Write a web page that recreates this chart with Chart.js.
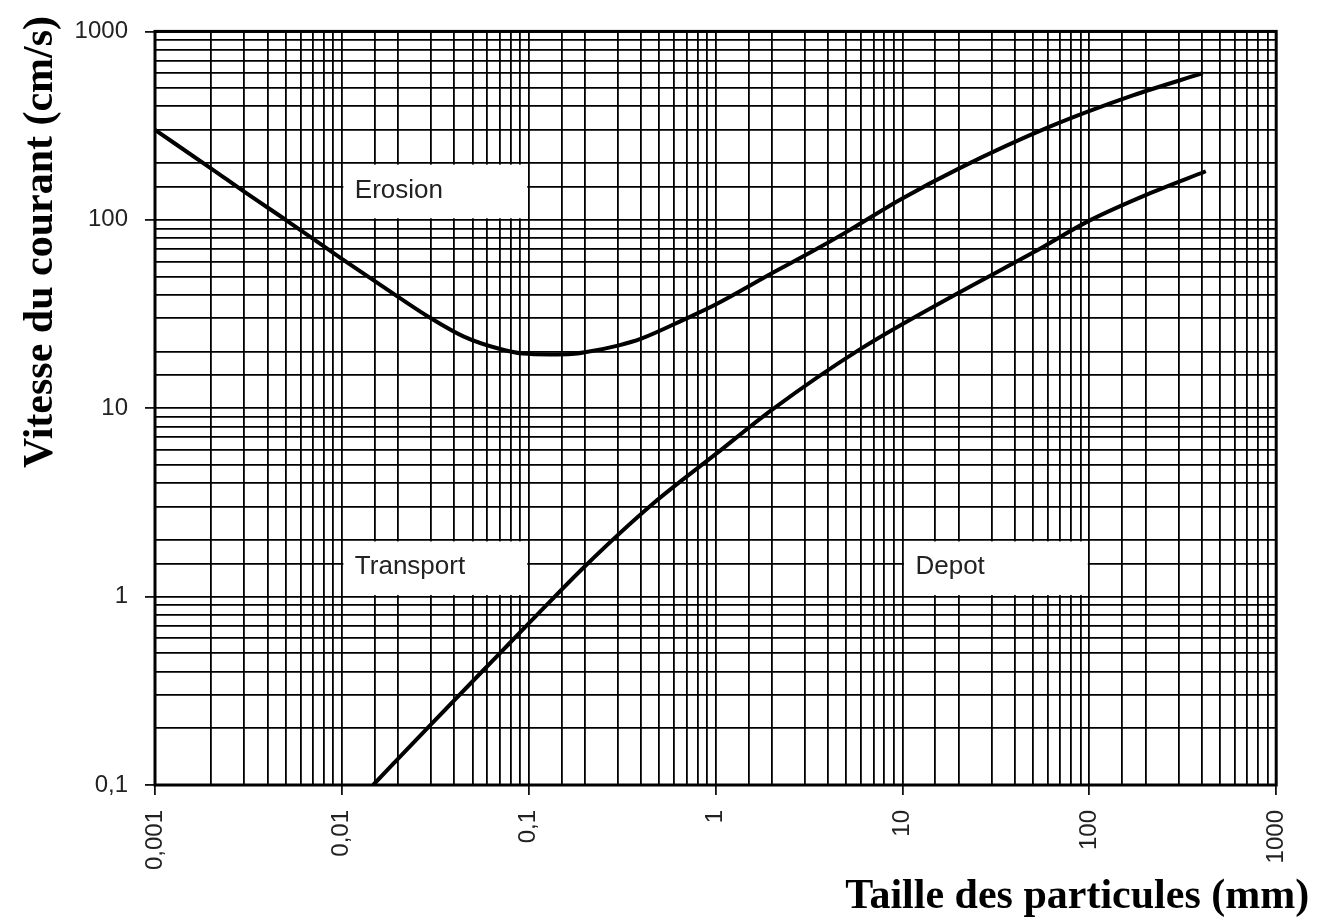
<!DOCTYPE html>
<html lang="fr">
<head>
<meta charset="utf-8">
<title>Diagramme de Hjulström</title>
<script src="https://cdn.jsdelivr.net/npm/chart.js@4.4.1/dist/chart.umd.min.js"></script>
<style>
  html, body { margin: 0; padding: 0; background: #fff; }
</style>
</head>
<body>
<canvas id="hjulstromChart" width="1320" height="921"></canvas>
<script>
const erosionSize = [0.001, 0.002, 0.003, 0.005, 0.01, 0.02, 0.03, 0.045, 0.068, 0.093, 0.13, 0.17, 0.2, 0.3, 0.4, 0.7, 1, 2, 3.3, 5, 9.6, 20, 61, 171, 404];
const erosionSpeed = [300, 187, 141, 100, 62, 39, 30, 24, 20.8, 19.5, 19.3, 19.4, 19.8, 21.5, 23.4, 30, 35.5, 52, 68, 86, 127, 187, 311, 457, 600];

// Courbe de depot
const depositSize = [0.0147, 0.03, 0.07, 0.1, 0.2, 0.46, 1, 2, 6, 20, 50, 100, 210, 420];
const depositSpeed = [0.1, 0.21, 0.5, 0.72, 1.45, 3.1, 5.7, 9.8, 20.7, 41, 67, 99, 138, 181];

// Etiquettes des decades
const xTickLabels = ['0,001', '0,01', '0,1', '1', '10', '100', '1000'];
const yTickLabels = ['0,1', '1', '10', '100', '1000'];

// Zones nommees (cases blanches sur la grille)
const regionNames = ['Erosion', 'Transport', 'Depot'];
const regionSizeRange = [[0.01, 0.1], [0.01, 0.1], [10, 100]];
const regionSpeedRange = [[100, 200], [1, 2], [1, 2]];

function toPoints(xs, ys) {
  return xs.map((x, i) => ({ x: x, y: ys[i] }));
}

function isDecade(v) {
  const e = Math.log10(v);
  return Math.abs(e - Math.round(e)) < 1e-6;
}

// Only powers of ten get a label
function decadeLabel(labels, firstExp) {
  return function(value) {
    if (!isDecade(value)) return '';
    const label = labels[Math.round(Math.log10(value)) - firstExp];
    return label === undefined ? '' : label;
  };
}

function tickMarkColor(context) {
  return context.tick && isDecade(context.tick.value) ? '#111' : 'rgba(0,0,0,0)';
}

const tickFont = { family: '"Liberation Sans", Arial, sans-serif', size: 24 };

// White boxes with region names, drawn over the grid
const regionBoxes = {
  id: 'regionBoxes',
  beforeDatasetsDraw(chart) {
    const { ctx, chartArea, scales: { x, y } } = chart;
    ctx.save();
    regionNames.forEach((name, i) => {
      const left = x.getPixelForValue(regionSizeRange[i][0]);
      const right = x.getPixelForValue(regionSizeRange[i][1]);
      const top = y.getPixelForValue(regionSpeedRange[i][1]);
      const bottom = y.getPixelForValue(regionSpeedRange[i][0]);
      ctx.fillStyle = '#fff';
      ctx.fillRect(left + 1.5, top + 1.5, right - left - 3, bottom - top - 3);
      ctx.fillStyle = '#222';
      ctx.font = '26px "Liberation Sans", Arial, sans-serif';
      ctx.textBaseline = 'middle';
      ctx.fillText(name, left + 13, (top + bottom) / 2 - 1);
    });

    // Frame around the plot
    ctx.strokeStyle = '#000';
    ctx.lineWidth = 3;
    ctx.strokeRect(chartArea.left, chartArea.top, chartArea.right - chartArea.left, chartArea.bottom - chartArea.top);
    ctx.restore();
  }
};

// Axis titles, placed like the original figure
const axisTitles = {
  id: 'axisTitles',
  afterDraw(chart) {
    const { ctx, chartArea } = chart;
    ctx.save();
    ctx.fillStyle = '#000';
    ctx.font = 'bold 42px "Liberation Serif", "Times New Roman", serif';
    ctx.textBaseline = 'alphabetic';

    ctx.textAlign = 'right';
    ctx.fillText('Taille des particules (mm)', chartArea.right + 33, 908);

    ctx.translate(52, 242);
    ctx.rotate(-Math.PI / 2);
    ctx.textAlign = 'center';
    ctx.fillText('Vitesse du courant (cm/s)', 0, 0);
    ctx.restore();
  }
};

const ctx = document.getElementById('hjulstromChart').getContext('2d');

new Chart(ctx, {
  type: 'line',
  data: {
    datasets: [{
      label: 'Erosion',
      data: toPoints(erosionSize, erosionSpeed),
      borderColor: '#000',
      borderWidth: 4,
      pointRadius: 0,
      cubicInterpolationMode: 'monotone',
      fill: false
    }, {
      label: 'Depot',
      data: toPoints(depositSize, depositSpeed),
      borderColor: '#000',
      borderWidth: 4,
      pointRadius: 0,
      cubicInterpolationMode: 'monotone',
      fill: false
    }]
  },
  options: {
    responsive: false,
    animation: false,
    layout: {
      padding: { top: 31, right: 43, left: 0, bottom: 0 }
    },
    plugins: {
      legend: { display: false },
      tooltip: { enabled: false }
    },
    scales: {
      x: {
        type: 'logarithmic',
        min: 0.001,
        max: 1000,
        afterFit: function(scale) { scale.height = 136; },
        grid: {
          color: '#000',
          lineWidth: 1.8,
          tickLength: 10,
          tickWidth: 1.8,
          tickColor: tickMarkColor
        },
        border: { display: false },
        ticks: {
          autoSkip: false,
          minRotation: 90,
          maxRotation: 90,
          padding: 15,
          color: '#222',
          font: tickFont,
          callback: decadeLabel(xTickLabels, -3)
        }
      },
      y: {
        type: 'logarithmic',
        min: 0.1,
        max: 1000,
        afterFit: function(scale) { scale.width = 155; },
        grid: {
          color: '#000',
          lineWidth: 1.8,
          tickLength: 10,
          tickWidth: 1.8,
          tickColor: tickMarkColor
        },
        border: { display: false },
        ticks: {
          autoSkip: false,
          padding: 17,
          color: '#222',
          font: tickFont,
          callback: decadeLabel(yTickLabels, -1)
        }
      }
    }
  },
  plugins: [regionBoxes, axisTitles]
});
</script>
</body>
</html>
